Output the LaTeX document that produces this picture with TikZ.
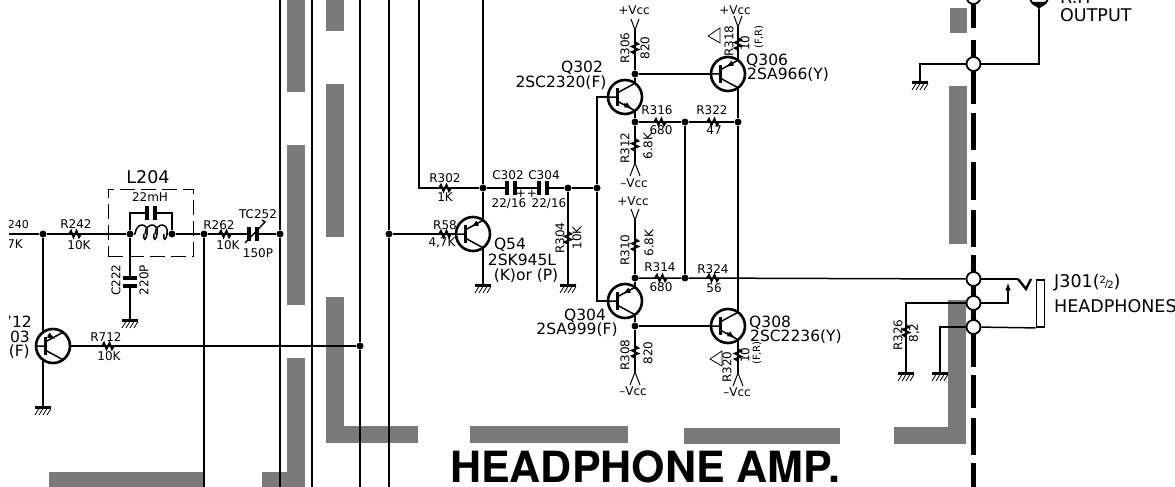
\documentclass[tikz,border=0pt]{standalone}
\usepackage{fontspec}
\setmainfont{DejaVu Sans}
\newfontfamily\titlefont{TeX Gyre Heros}
\usetikzlibrary{positioning}
\tikzset{
	wire/.style={line width=1.5pt},
	dot/.style={circle,fill=black,inner sep=0pt,minimum size=7pt},
	pinhole/.style={circle,draw,fill=white,line width=1.8pt,inner sep=0pt,minimum size=14pt},
	lbl/.style={font=\fontsize{12}{12}\selectfont,inner sep=0pt},
	tiny lbl/.style={font=\fontsize{10}{10}\selectfont,inner sep=0pt},
	part/.style={font=\fontsize{15.5}{15.5}\selectfont,inner sep=0pt},
	big/.style={font=\fontsize{17.5}{17.5}\selectfont,inner sep=0pt},
	res/.pic={\draw[line width=1.8pt] (-6,0)--(-4,-3.2)--(-1.5,3.2)--(1.5,-3.2)--(4,3.2)--(6,0);},
	capa/.pic={\fill[white] (-4,-7) rectangle (4,7);
		\draw[line width=3.5pt] (-4,-7) -- (-4,7) (4,-7) -- (4,7);},
	grnd/.pic={\fill (-8,-1.5) rectangle (8,1.5);
		\foreach \i in {-7,-3,1,5} {\draw[line width=.8pt] (\i+3,1.5) -- (\i-1,8);}},
	vup/.pic={\draw[line width=1pt] (-4,-11) -- (0,0) -- (4,-11);},
	vdown/.pic={\draw[line width=1pt] (-5,13) -- (0,0) -- (5,13);},
	warn/.pic={\draw[line width=.8pt] (-6,0) -- (6,-8) -- (6,7) -- cycle;},
	coil/.pic={\foreach \i in {0,10,20} {\draw[line width=1.5pt] (\i,0) .. controls (\i+1,-12) and (\i+14,-12) .. (\i+12,0) .. controls (\i+11,7) and (\i+8,7) .. (\i+9,0);}},
	bjt/.pic={\draw[line width=2.6pt] (0,0) circle (17);
		\draw[line width=3pt] (-8,-9) -- (-8,9);
		\draw[wire] (-17,0) -- (-8,0) (10,-13.7) -- (-8,-4) (-8,4) -- (10,13.7);
		\coordinate (-b) at (-17,0);
		\coordinate (-top) at (10,-13.7);
		\coordinate (-bot) at (10,13.7);},
	bjtin/.pic={\pic {bjt};\draw[-latex,line width=1.6pt] (5,-11) -- (-2,-7.3);},
	bjtout/.pic={\pic {bjt};\draw[-latex,line width=1.6pt] (-1,6.8) -- (7,11.8);}
}
\begin{document}
\begin{tikzpicture}[x=1pt,y=-1pt]
	\useasboundingbox (0,0) rectangle (1175,487);
	\clip (9,0) rectangle (1175,487);
	%Gray bars
		\foreach \xa/\ya/\xb/\yb in {49/472/203/487,262/472/305/487,287/358/305/472,287/145/305/305,287/0/305/92,326/0/344/31,326/84/344/237,326/297/344/443,326/426/418/443,470/426/628/443,684/428/840/444,894/427/966/444,948/300/966/427,949/86/967/244,950/8/967/33}
		{
			\fill[black!52] (\xa,\ya) rectangle (\xb,\yb);
		}
	%Thick dashed line
		\foreach \ya/\yb in {0/28,40/104,113/150,162/200,210/247,255/367,375/408,418/455,463/487}
		{
			\draw[line width=5pt] (973.5,\ya) -- (973.5,\yb);
		}
	%Junctions
		\foreach \name/\x/\y in {inA/43/234,coilA/130/234,coilB/172/234,railA/204/234,railB/280/234,railC/389/234,railD/360/346,drain/483/188,capout/568/188,fb/597/188,q302c/635/74,q302e/635/122,fbtop/685/122,outtop/738/122,q304e/635/278,fbbot/685/278,q304c/635/326}
		{
			\node[dot] (\name) at (\x,\y) {};
		}
	%Connector holes
		\foreach \name/\y in {pinA/-3,pinB/64,pinC/279,pinD/303,pinE/327}
		{
			\node[pinhole] (\name) at (973.5,\y) {};
		}
	%Free ends of the rails
		\foreach \n/\x in {a/280,b/312,c/360,d/389,e/419,f/483}
		{
			\coordinate (top\n) at (\x,0);
			\coordinate (bot\n) at (\x,487);
		}
		\coordinate (bote) at (204,487);
		\coordinate (leftin) at (9,234);
		\coordinate (capL) at (151,213);
		\coordinate (vccA) at (635,30);
		\coordinate (vccB) at (738,27);
		\coordinate (vccC) at (635,220);
		\coordinate (veeA) at (635,163);
		\coordinate (veeB) at (635,372);
		\coordinate (veeC) at (738,373);
		\coordinate (gndA) at (43,407);
		\coordinate (gndB) at (130,320);
		\coordinate (gndC) at (483,285);
		\coordinate (gndD) at (568,285);
		\coordinate (gndE) at (920,82);
		\coordinate (gndF) at (906,373);
		\coordinate (gndG) at (940,373);
		\coordinate (coilin) at (135,234);
		\coordinate (coilout) at (166,234);
		\coordinate (jackV) at (1018,279);
		\coordinate (jackA) at (1008,283);
		\coordinate (outjack) at (1039,9);
		\coordinate (q712top) at (43,332);
		\coordinate (q712bot) at (43,360);
		\coordinate (q712base) at (70,346);
	%Transistors
		\pic[xscale=-1] (q712) at (53,346) {bjtin};
		\pic (q54) at (473,234) {bjtin};
		\pic (q302) at (625,97) {bjtout};
		\pic (q304) at (625,301) {bjtin};
		\pic (q306) at (728,74) {bjtin};
		\pic (q308) at (728,326) {bjtout};
	%Wires
		\draw[wire] (topa) -- (railB) -- (bota);
		\draw[wire] (topb) -- (botb);
		\draw[wire] (topc) -- (railD) -- (botc);
		\draw[wire] (topd) -- (railC) -- (botd);
		\draw[wire] (railA) -- (bote);
		\draw[wire] (leftin) -- (inA) -- (coilA) -- (coilin);
		\draw[wire] (coilout) -- (coilB) -- (railA) -- (railB);
		\draw[wire] (coilA) |- (capL) -| (coilB);
		\draw[wire] (coilA) -- (gndB);
		\draw[wire] (inA) -- (q712top);
		\draw[wire] (q712bot) -- (gndA);
		\draw[wire] (q712base) -- (railD);
		\draw[wire] (railC) -- (q54-b);
		\draw[wire] (tope) |- (drain);
		\draw[wire] (topf) -- (drain) -- (q54-top);
		\draw[wire] (q54-bot) -- (gndC);
		\draw[wire] (drain) -- (capout) -- (fb);
		\draw[wire] (capout) -- (gndD);
		\draw[wire] (q302-b) -| (fb);
		\draw[wire] (fb) |- (q304-b);
		\draw[wire] (vccA) -- (q302c) -- (q302-top);
		\draw[wire] (q302-bot) -- (q302e) -- (veeA);
		\draw[wire] (q302c) -- (q306-b);
		\draw[wire] (vccB) -- (q306-top);
		\draw[wire] (q306-bot) -- (outtop) -- (q308-top);
		\draw[wire] (q308-bot) -- (veeC);
		\draw[wire] (q302e) -- (fbtop) -- (outtop);
		\draw[wire] (fbtop) -- (fbbot);
		\draw[wire] (vccC) -- (q304e) -- (q304-top);
		\draw[wire] (q304-bot) -- (q304c) -- (veeB);
		\draw[wire] (q304c) -- (q308-b);
		\draw[wire] (q304e) -- (fbbot) -- (pinC);
		\draw[wire] (gndE) |- (pinB);
		\draw[wire] (pinB) -| (outjack);
		\draw[wire] (gndF) |- (pinD);
		\draw[wire] (gndG) |- (pinE);
		\draw[wire] (pinC) -- (jackV);
		\draw[wire,-latex] (pinD) -| (jackA);
	%Resistors
		\foreach \x/\y in {75/234,225/234,108/346,445/188,445/234,660/122,713/122,661/278,713/278}
		{
			\pic at (\x,\y) {res};
		}
		\foreach \x/\y in {635/48,738/44,635/145,635/245,635/352,738/355,568/238,906/331}
		{
			\pic[rotate=90] at (\x,\y) {res};
		}
	%Capacitors
		\pic at (capL) {capa};
		\pic at (253,234) {capa};
		\pic at (511,188) {capa};
		\pic at (543,188) {capa};
		\pic[rotate=90] at (130,282) {capa};
		\draw[line width=1.4pt] (245,243) -- (265,222) -- (262,220);
	%Coil and its box
		\pic at (coilin) {coil};
		\node[draw,line width=1pt,dash pattern=on 15pt off 6pt,minimum width=85pt,minimum height=67pt,inner sep=0pt] (boxL) at (150.5,222.5) {};
	%Grounds and supplies
		\foreach \g in {gndA,gndB,gndC,gndD,gndE,gndF,gndG}
		{
			\pic at (\g) {grnd};
		}
		\foreach \v in {vccA,vccB,vccC}
		{
			\pic at (\v) {vup};
		}
		\foreach \v in {veeA,veeB,veeC}
		{
			\pic at (\v) {vdown};
		}
		\pic at (714,36) {warn};
		\pic at (716,359) {warn};
	%Jack
		\node[draw,line width=1.8pt,minimum width=8pt,minimum height=47pt,inner sep=0pt] (jackbar) at (1040.5,303.5) {};
		\draw[wire] (pinE) -- (jackbar.south west);
		\draw[line width=2.4pt] (jackV) -- (1026,289) -- (1031,279);
		\node[circle,draw,fill=white,line width=1.8pt,inner sep=0pt,minimum size=18pt] (outring) at (1039,-3) {};
		\fill (1031,2) -- (1047,2) -- (outjack) -- cycle;
	%Labels, left part
		\node[tiny lbl,font=\fontsize{11}{11}\selectfont,anchor=east] (t240) at (29,224) {240};
		\node[lbl,anchor=east] (t47k) at (23,244) {7K};
		\node[lbl] (tR242) at (76,224) {R242};
		\node[lbl] (t10ka) at (79,245) {10K};
		\node[big] (tL204) at (148,177) {L204};
		\node[lbl] (t22mh) at (150,197) {22mH};
		\node[lbl,rotate=90] (tC222) at (116,280) {C222};
		\node[lbl,rotate=90] (t220p) at (144,280) {220P};
		\node[part,anchor=east] (tq712) at (32,322) {712};
		\node[part,anchor=east] (tq03) at (30,337) {03};
		\node[part,anchor=east] (tqf) at (30,352) {(F)};
		\node[lbl] (tR712) at (106,337) {R712};
		\node[lbl] (t10kb) at (109,356) {10K};
		\node[lbl] (tR262) at (219,225) {R262};
		\node[lbl] (t10kc) at (228,245) {10K};
		\node[lbl] (tTC) at (258,214) {TC252};
		\node[lbl] (t150p) at (258,253) {150P};
	%Labels, middle part
		\node[lbl] (tR302) at (445,178) {R302};
		\node[lbl] (t1k) at (445,197) {1K};
		\node[lbl] (tR58) at (445,225) {R58};
		\node[lbl] (t47kb) at (442,243) {4,7K};
		\node[lbl] (tC302) at (508,175) {C302};
		\node[lbl] (tC304) at (544,175) {C304};
		\node[lbl] (t2216a) at (509,204) {22/16};
		\node[lbl] (t2216b) at (549,204) {22/16};
		\node[lbl] (tplusa) at (521,194) {+};
		\node[lbl] (tplusb) at (532,194) {+};
		\node[lbl,rotate=90] (tR304) at (560,238) {R304};
		\node[lbl,rotate=90] (t10kd) at (577,238) {10K};
		\node[part] (tq54) at (510,245) {Q54};
		\node[part] (t945) at (522,260) {2SK945L};
		\node[part] (tkp) at (526,276) {(K)or (P)};
		\node[part] (tq302) at (582,68) {Q302};
		\node[part] (t2320) at (561,83) {2SC2320(F)};
		\node[part] (tq304) at (585,316) {Q304};
		\node[part] (t999) at (577,330) {2SA999(F)};
	%Labels, output stage
		\node[lbl] (tvcca) at (634,10) {+Vcc};
		\node[lbl] (tvccb) at (735,10) {+Vcc};
		\node[lbl] (tvccc) at (633,201) {+Vcc};
		\node[lbl] (tveea) at (634,183) {--Vcc};
		\node[lbl] (tveeb) at (633,391) {--Vcc};
		\node[lbl] (tveec) at (737,392) {--Vcc};
		\node[lbl,rotate=90] (tR306) at (625,48) {R306};
		\node[lbl,rotate=90] (t820a) at (645,48) {820};
		\node[lbl,rotate=90] (tR312) at (625,148) {R312};
		\node[lbl,rotate=90] (t68ka) at (648,146) {6.8K};
		\node[lbl,rotate=90] (tR310) at (625,250) {R310};
		\node[lbl,rotate=90] (t68kb) at (649,243) {6.8K};
		\node[lbl,rotate=90] (tR308) at (625,355) {R308};
		\node[lbl,rotate=90] (t820b) at (648,353) {820};
		\node[lbl,rotate=90] (tR318) at (729,41) {R318};
		\node[lbl,rotate=90] (t10a) at (745,43) {10};
		\node[tiny lbl,rotate=90] (tfra) at (759,37) {(F,R)};
		\node[lbl,rotate=90] (tR320) at (727,367) {R320};
		\node[lbl,rotate=90] (t10b) at (745,355) {10};
		\node[tiny lbl,rotate=90] (tfrb) at (757,353) {(F,R)};
		\node[lbl] (tR316) at (657,110) {R316};
		\node[lbl] (t680a) at (661,130) {680};
		\node[lbl] (tR322) at (712,110) {R322};
		\node[lbl] (t47) at (714,130) {47};
		\node[lbl] (tR314) at (660,267) {R314};
		\node[lbl] (t680b) at (661,287) {680};
		\node[lbl] (tR324) at (713,269) {R324};
		\node[lbl] (t56) at (714,288) {56};
		\node[part,anchor=west] (tq306) at (746,61) {Q306};
		\node[part,anchor=west] (t966) at (747,75) {2SA966(Y)};
		\node[part,anchor=west] (tq308) at (749,323) {Q308};
		\node[part,anchor=west] (t2236) at (750,337) {2SC2236(Y)};
	%Labels, right part
		\node[lbl,rotate=90] (tR326) at (898,335) {R326};
		\node[lbl,rotate=90] (t82) at (914,333) {8,2};
		\node[big,anchor=base west] (trh) at (1060,4) {R.H};
		\node[big,anchor=west] (toutput) at (1060,15) {OUTPUT};
		\node[big,anchor=west] (tj301) at (1054,283) {J301({\fontsize{10}{10}\selectfont\raisebox{4pt}{2}\kern-1pt/\kern-1pt\raisebox{-1pt}{2}})};
		\node[big,anchor=west] (thp) at (1054,306) {HEADPHONES};
		\node[font=\titlefont\bfseries\fontsize{43}{43}\selectfont,inner sep=0pt,anchor=base west] (ttitle) at (450,482) {HEADPHONE AMP.};
\end{tikzpicture}
\end{document}
